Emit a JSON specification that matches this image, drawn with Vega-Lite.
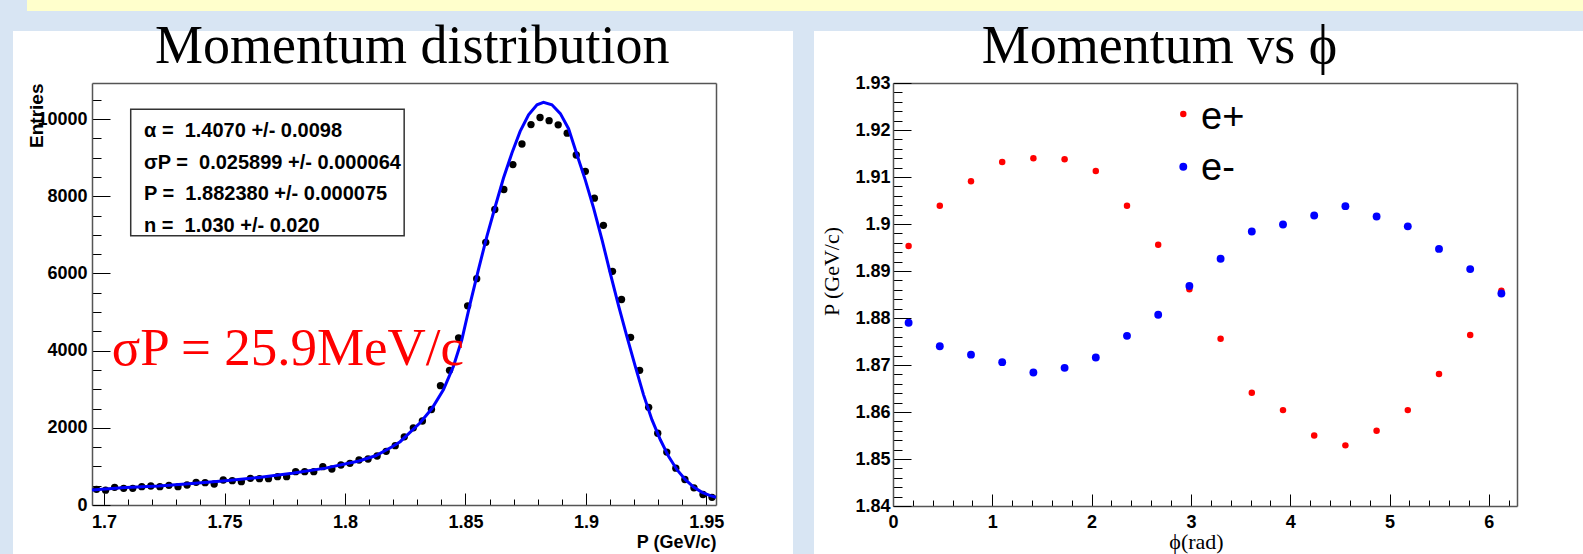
{
  "$schema": "https://vega.github.io/schema/vega-lite/v6.json",
  "background": "#d8e5f3",
  "padding": {"left": 13, "top": 0, "right": 0, "bottom": 0},
  "spacing": 31,
  "bounds": "flush",
  "config": {
    "view": {"stroke": null},
    "font": "Liberation Sans",
    "axis": {
      "labelFont": "Liberation Sans", "labelFontWeight": "bold", "labelFontSize": 18, "labelColor": "black",
      "tickColor": "black", "tickWidth": 1, "domainColor": "#555555", "domainWidth": 1.5,
      "grid": false, "labelFlush": false, "labelOverlap": false, "titleColor": "black"
    }
  },
  "vconcat": [
    {
      "spacing": 0,
      "bounds": "flush",
      "hconcat": [
        {"width": 14, "height": 11, "view": {"fill": null, "stroke": null}, "data": {"values": [{}]}, "mark": {"type": "point", "opacity": 0}},
        {"width": 1556, "height": 11, "view": {"fill": "#ffffcc", "stroke": null}, "data": {"values": [{}]}, "mark": {"type": "point", "opacity": 0}}
      ]
    },
    {
      "spacing": 21,
      "bounds": "flush",
      "hconcat": [
        {
          "width": 780, "height": 523,
          "view": {"fill": "white", "stroke": null},
          "resolve": {"axis": {"x": "independent", "y": "independent"}},
          "layer": [
            {
              "data": {"values": [{}]},
              "mark": {"type": "point", "opacity": 0},
              "encoding": {
                "x": {"datum": 1.8, "type": "quantitative", "scale": {"domain": [1.695, 1.954], "range": [79, 703], "zero": false, "nice": false},
                      "axis": {"orient": "top", "offset": -52, "ticks": false, "labels": false, "title": null}},
                "y": {"datum": 5000, "type": "quantitative", "scale": {"domain": [0, 10933], "range": [474, 52], "zero": false, "nice": false},
                      "axis": {"orient": "right", "offset": -77, "ticks": false, "labels": false, "title": null}}
              }
            },
            {
              "data": {"values": [{}]},
              "mark": {"type": "point", "opacity": 0},
              "encoding": {
                "x": {"datum": 1.8, "type": "quantitative",
                      "axis": {"orient": "bottom", "offset": -49, "domain": false, "labels": false, "title": null, "tickSize": -6,
                               "values": [1.71,1.72,1.73,1.74,1.76,1.77,1.78,1.79,1.81,1.82,1.83,1.84,1.86,1.87,1.88,1.89,1.91,1.92,1.93,1.94]}},
                "y": {"datum": 5000, "type": "quantitative",
                      "axis": {"orient": "left", "offset": -79, "domain": false, "labels": false, "title": null, "tickSize": -9,
                               "values": [500,1000,1500,2500,3000,3500,4500,5000,5500,6500,7000,7500,8500,9000,9500,10500]}}
              }
            },
            {
              "data": {"values": [{}]},
              "mark": {"type": "rect", "fill": "white", "stroke": "#333333", "strokeWidth": 1.5},
              "encoding": {
                "x": {"datum": 1.71107, "type": "quantitative", "axis": null},
                "x2": {"datum": 1.82457},
                "y": {"datum": 10251, "type": "quantitative", "axis": null},
                "y2": {"datum": 6977}
              }
            },
            {
              "data": {"values": [
                {"P": 1.69688, "N": 406}, {"P": 1.70064, "N": 385}, {"P": 1.70439, "N": 458}, {"P": 1.70815, "N": 432},
                {"P": 1.71191, "N": 432}, {"P": 1.71566, "N": 475}, {"P": 1.71942, "N": 492}, {"P": 1.72318, "N": 475},
                {"P": 1.72694, "N": 509}, {"P": 1.73069, "N": 475}, {"P": 1.73445, "N": 518}, {"P": 1.73821, "N": 587},
                {"P": 1.74196, "N": 579}, {"P": 1.74572, "N": 544}, {"P": 1.74948, "N": 648}, {"P": 1.75323, "N": 630},
                {"P": 1.75699, "N": 604}, {"P": 1.76075, "N": 691}, {"P": 1.76451, "N": 682}, {"P": 1.76826, "N": 682},
                {"P": 1.77202, "N": 734}, {"P": 1.77578, "N": 734}, {"P": 1.77953, "N": 864}, {"P": 1.78329, "N": 864},
                {"P": 1.78705, "N": 864}, {"P": 1.7908, "N": 993}, {"P": 1.79456, "N": 933}, {"P": 1.79832, "N": 1036},
                {"P": 1.80207, "N": 1079}, {"P": 1.80583, "N": 1166}, {"P": 1.80959, "N": 1192}, {"P": 1.81335, "N": 1269},
                {"P": 1.8171, "N": 1390}, {"P": 1.82086, "N": 1537}, {"P": 1.82462, "N": 1765}, {"P": 1.82837, "N": 2000},
                {"P": 1.83213, "N": 2176}, {"P": 1.83589, "N": 2475}, {"P": 1.83964, "N": 3091}, {"P": 1.8434, "N": 3489},
                {"P": 1.84716, "N": 4330}, {"P": 1.85092, "N": 5160}, {"P": 1.85467, "N": 5864}, {"P": 1.85843, "N": 6805},
                {"P": 1.86219, "N": 7655}, {"P": 1.86594, "N": 8174}, {"P": 1.8697, "N": 8820}, {"P": 1.87346, "N": 9352},
                {"P": 1.87721, "N": 9855}, {"P": 1.88097, "N": 10040}, {"P": 1.88473, "N": 9957}, {"P": 1.88849, "N": 9850},
                {"P": 1.89224, "N": 9633}, {"P": 1.896, "N": 9068}, {"P": 1.89976, "N": 8644}, {"P": 1.90351, "N": 7950},
                {"P": 1.90727, "N": 7245}, {"P": 1.91103, "N": 6054}, {"P": 1.91478, "N": 5324}, {"P": 1.91854, "N": 4344},
                {"P": 1.9223, "N": 3489}, {"P": 1.92605, "N": 2530}, {"P": 1.92981, "N": 1860}, {"P": 1.93357, "N": 1370},
                {"P": 1.93733, "N": 955}, {"P": 1.94108, "N": 660}, {"P": 1.94484, "N": 445}, {"P": 1.9486, "N": 272},
                {"P": 1.95235, "N": 199}
              ]},
              "mark": {"type": "circle", "color": "black", "opacity": 1, "size": 54},
              "encoding": {
                "x": {"field": "P", "type": "quantitative",
                      "axis": {"orient": "bottom", "offset": -49, "values": [1.7, 1.75, 1.8, 1.85, 1.9, 1.95], "labelExpr": "'' + datum.value",
                               "tickSize": -12, "labelPadding": 20,
                               "title": "P (GeV/c)", "titleFont": "Liberation Sans", "titleFontWeight": "bold", "titleFontSize": 18,
                               "titleAnchor": "end", "titleAlign": "right", "titleBaseline": "alphabetic", "titleX": 703, "titleY": 42, "titleAngle": 0}},
                "y": {"field": "N", "type": "quantitative",
                      "axis": {"orient": "left", "offset": -79, "values": [0, 2000, 4000, 6000, 8000, 10000], "labelExpr": "'' + datum.value",
                               "tickSize": -18, "labelPadding": 23,
                               "title": "Entries", "titleFont": "Liberation Sans", "titleFontWeight": "bold", "titleFontSize": 19,
                               "titleAngle": -90, "titleAlign": "right", "titleBaseline": "alphabetic", "titleX": -50, "titleY": 52}}
              }
            },
            {
              "data": {"values": [
                {"P": 1.695, "N": 390}, {"P": 1.709, "N": 455}, {"P": 1.7227, "N": 495}, {"P": 1.7365, "N": 560},
                {"P": 1.7504, "N": 630}, {"P": 1.7642, "N": 715}, {"P": 1.7781, "N": 820}, {"P": 1.7919, "N": 955},
                {"P": 1.8058, "N": 1140}, {"P": 1.8127, "N": 1275}, {"P": 1.8196, "N": 1510}, {"P": 1.8229, "N": 1640},
                {"P": 1.8312, "N": 2130}, {"P": 1.8361, "N": 2500}, {"P": 1.8409, "N": 2990}, {"P": 1.845, "N": 3590},
                {"P": 1.8485, "N": 4280}, {"P": 1.852, "N": 5230}, {"P": 1.8554, "N": 6100}, {"P": 1.8589, "N": 6960},
                {"P": 1.8624, "N": 7740}, {"P": 1.8658, "N": 8470}, {"P": 1.8693, "N": 9120}, {"P": 1.8727, "N": 9680},
                {"P": 1.8762, "N": 10110}, {"P": 1.8797, "N": 10370}, {"P": 1.8824, "N": 10430}, {"P": 1.8859, "N": 10370},
                {"P": 1.8894, "N": 10140}, {"P": 1.8928, "N": 9750}, {"P": 1.8963, "N": 9076}, {"P": 1.8997, "N": 8430},
                {"P": 1.9032, "N": 7690}, {"P": 1.9067, "N": 6870}, {"P": 1.9101, "N": 6010}, {"P": 1.9136, "N": 5150},
                {"P": 1.917, "N": 4370}, {"P": 1.9205, "N": 3590}, {"P": 1.9239, "N": 2860}, {"P": 1.9274, "N": 2210},
                {"P": 1.9309, "N": 1690}, {"P": 1.9343, "N": 1260}, {"P": 1.9378, "N": 915}, {"P": 1.9413, "N": 656},
                {"P": 1.9447, "N": 466}, {"P": 1.9482, "N": 328}, {"P": 1.9516, "N": 242}, {"P": 1.954, "N": 200}
              ]},
              "mark": {"type": "line", "color": "#0000ff", "strokeWidth": 3},
              "encoding": {
                "x": {"field": "P", "type": "quantitative", "axis": null},
                "y": {"field": "N", "type": "quantitative", "axis": null}
              }
            },
            {
              "data": {"values": [{}]},
              "mark": {"type": "text", "text": ["α = \u00a01.4070 +/- 0.0098", "σP = \u00a00.025899 +/- 0.000064", "P = \u00a01.882380 +/- 0.000075", "n = \u00a01.030 +/- 0.020"],
                       "lineHeight": 31.5, "align": "left", "baseline": "alphabetic", "font": "Liberation Sans", "fontWeight": "bold", "fontSize": 20, "color": "black"},
              "encoding": {
                "x": {"datum": 1.7166, "type": "quantitative", "axis": null},
                "y": {"datum": 9526, "type": "quantitative", "axis": null}
              }
            },
            {
              "data": {"values": [{}]},
              "mark": {"type": "text", "text": "σP = 25.9MeV/c", "align": "left", "baseline": "alphabetic", "font": "Liberation Serif", "fontSize": 53, "color": "#ff0000"},
              "encoding": {
                "x": {"datum": 1.70318, "type": "quantitative", "axis": null},
                "y": {"datum": 3627, "type": "quantitative", "axis": null}
              }
            },
            {
              "data": {"values": [{}]},
              "mark": {"type": "text", "text": "Momentum distribution", "align": "center", "baseline": "alphabetic", "font": "Liberation Serif", "fontSize": 54, "color": "black"},
              "encoding": {
                "x": {"datum": 1.82789, "type": "quantitative", "axis": null},
                "y": {"datum": 11451, "type": "quantitative", "axis": null}
              }
            }
          ]
        },
        {
          "width": 769, "height": 523,
          "view": {"fill": "white", "stroke": null},
          "resolve": {"axis": {"x": "independent", "y": "independent"}},
          "layer": [
            {
              "data": {"values": [{}]},
              "mark": {"type": "point", "opacity": 0},
              "encoding": {
                "x": {"datum": 3, "type": "quantitative", "scale": {"domain": [0, 6.2832], "range": [79, 703], "zero": false, "nice": false},
                      "axis": {"orient": "top", "offset": -52, "ticks": false, "labels": false, "title": null}},
                "y": {"datum": 1.88, "type": "quantitative", "scale": {"domain": [1.84, 1.93], "range": [475, 52], "zero": false, "nice": false},
                      "axis": {"orient": "right", "offset": -66, "ticks": false, "labels": false, "title": null}}
              }
            },
            {
              "data": {"values": [{}]},
              "mark": {"type": "point", "opacity": 0},
              "encoding": {
                "x": {"datum": 3, "type": "quantitative",
                      "axis": {"orient": "bottom", "offset": -48, "domain": false, "labels": false, "title": null, "tickSize": -6,
                               "values": [0.2,0.4,0.6,0.8,1.2,1.4,1.6,1.8,2.2,2.4,2.6,2.8,3.2,3.4,3.6,3.8,4.2,4.4,4.6,4.8,5.2,5.4,5.6,5.8,6.2]}},
                "y": {"datum": 1.88, "type": "quantitative",
                      "axis": {"orient": "left", "offset": -79, "domain": false, "labels": false, "title": null, "tickSize": -9,
                               "values": [1.842,1.844,1.846,1.848,1.852,1.854,1.856,1.858,1.862,1.864,1.866,1.868,1.872,1.874,1.876,1.878,1.882,1.884,1.886,1.888,1.892,1.894,1.896,1.898,1.902,1.904,1.906,1.908,1.912,1.914,1.916,1.918,1.922,1.924,1.926,1.928]}}
              }
            },
            {
              "data": {"values": [
                {"phi": 0.15708, "P": 1.8953, "series": "e+"}, {"phi": 0.47124, "P": 1.9039, "series": "e+"},
                {"phi": 0.7854, "P": 1.9091, "series": "e+"}, {"phi": 1.09956, "P": 1.9132, "series": "e+"},
                {"phi": 1.41372, "P": 1.914, "series": "e+"}, {"phi": 1.72788, "P": 1.9138, "series": "e+"},
                {"phi": 2.04204, "P": 1.9113, "series": "e+"}, {"phi": 2.35619, "P": 1.9039, "series": "e+"},
                {"phi": 2.67035, "P": 1.8956, "series": "e+"}, {"phi": 2.98451, "P": 1.8861, "series": "e+"},
                {"phi": 3.29867, "P": 1.8756, "series": "e+"}, {"phi": 3.61283, "P": 1.8641, "series": "e+"},
                {"phi": 3.92699, "P": 1.8604, "series": "e+"}, {"phi": 4.24115, "P": 1.855, "series": "e+"},
                {"phi": 4.55531, "P": 1.8529, "series": "e+"}, {"phi": 4.86947, "P": 1.856, "series": "e+"},
                {"phi": 5.18363, "P": 1.8604, "series": "e+"}, {"phi": 5.49779, "P": 1.8681, "series": "e+"},
                {"phi": 5.81195, "P": 1.8764, "series": "e+"}, {"phi": 6.12611, "P": 1.8858, "series": "e+"},
                {"phi": 0.15708, "P": 1.879, "series": "e-"}, {"phi": 0.47124, "P": 1.874, "series": "e-"},
                {"phi": 0.7854, "P": 1.8722, "series": "e-"}, {"phi": 1.09956, "P": 1.8706, "series": "e-"},
                {"phi": 1.41372, "P": 1.8684, "series": "e-"}, {"phi": 1.72788, "P": 1.8694, "series": "e-"},
                {"phi": 2.04204, "P": 1.8716, "series": "e-"}, {"phi": 2.35619, "P": 1.8762, "series": "e-"},
                {"phi": 2.67035, "P": 1.8807, "series": "e-"}, {"phi": 2.98451, "P": 1.8868, "series": "e-"},
                {"phi": 3.29867, "P": 1.8926, "series": "e-"}, {"phi": 3.61283, "P": 1.8984, "series": "e-"},
                {"phi": 3.92699, "P": 1.8999, "series": "e-"}, {"phi": 4.24115, "P": 1.9018, "series": "e-"},
                {"phi": 4.55531, "P": 1.9038, "series": "e-"}, {"phi": 4.86947, "P": 1.9016, "series": "e-"},
                {"phi": 5.18363, "P": 1.8995, "series": "e-"}, {"phi": 5.49779, "P": 1.8947, "series": "e-"},
                {"phi": 5.81195, "P": 1.8904, "series": "e-"}, {"phi": 6.12611, "P": 1.8852, "series": "e-"}
              ]},
              "mark": {"type": "circle", "opacity": 1},
              "encoding": {
                "x": {"field": "phi", "type": "quantitative",
                      "axis": {"orient": "bottom", "offset": -48, "values": [0, 1, 2, 3, 4, 5, 6], "labelExpr": "'' + datum.value",
                               "tickSize": -12, "labelPadding": 19,
                               "title": "ϕ(rad)", "titleFont": "Liberation Serif", "titleFontWeight": "normal", "titleFontSize": 22,
                               "titleAlign": "center", "titleBaseline": "alphabetic", "titleX": 382, "titleY": 42, "titleAngle": 0}},
                "y": {"field": "P", "type": "quantitative",
                      "axis": {"orient": "left", "offset": -79, "values": [1.84, 1.85, 1.86, 1.87, 1.88, 1.89, 1.9, 1.91, 1.92, 1.93], "labelExpr": "'' + datum.value",
                               "tickSize": -18, "labelPadding": 21,
                               "title": "P (GeV/c)", "titleFont": "Liberation Serif", "titleFontWeight": "normal", "titleFontSize": 22,
                               "titleAngle": -90, "titleAlign": "center", "titleBaseline": "alphabetic", "titleX": -55, "titleY": 240}},
                "color": {"field": "series", "type": "nominal", "scale": {"domain": ["e+", "e-"], "range": ["#ff0000", "#0000ff"]}, "legend": null},
                "size": {"field": "series", "type": "nominal", "scale": {"domain": ["e+", "e-"], "range": [42, 62]}, "legend": null}
              }
            },
            {
              "data": {"values": [{}]},
              "mark": {"type": "circle", "opacity": 1, "color": "#ff0000", "size": 42},
              "encoding": {
                "x": {"datum": 2.923, "type": "quantitative", "axis": null},
                "y": {"datum": 1.9234, "type": "quantitative", "axis": null}
              }
            },
            {
              "data": {"values": [{}]},
              "mark": {"type": "circle", "opacity": 1, "color": "#0000ff", "size": 62},
              "encoding": {
                "x": {"datum": 2.923, "type": "quantitative", "axis": null},
                "y": {"datum": 1.91219, "type": "quantitative", "axis": null}
              }
            },
            {
              "data": {"values": [{}]},
              "mark": {"type": "text", "text": ["e+", "e-"], "lineHeight": 50.7, "align": "left", "baseline": "alphabetic", "font": "Liberation Sans", "fontSize": 38, "color": "black"},
              "encoding": {
                "x": {"datum": 3.102, "type": "quantitative", "axis": null},
                "y": {"datum": 1.92015, "type": "quantitative", "axis": null}
              }
            },
            {
              "data": {"values": [{}]},
              "mark": {"type": "text", "text": "Momentum vs ϕ", "align": "center", "baseline": "alphabetic", "font": "Liberation Serif", "fontSize": 54, "color": "black"},
              "encoding": {
                "x": {"datum": 2.6838, "type": "quantitative", "axis": null},
                "y": {"datum": 1.93426, "type": "quantitative", "axis": null}
              }
            }
          ]
        }
      ]
    }
  ]
}
